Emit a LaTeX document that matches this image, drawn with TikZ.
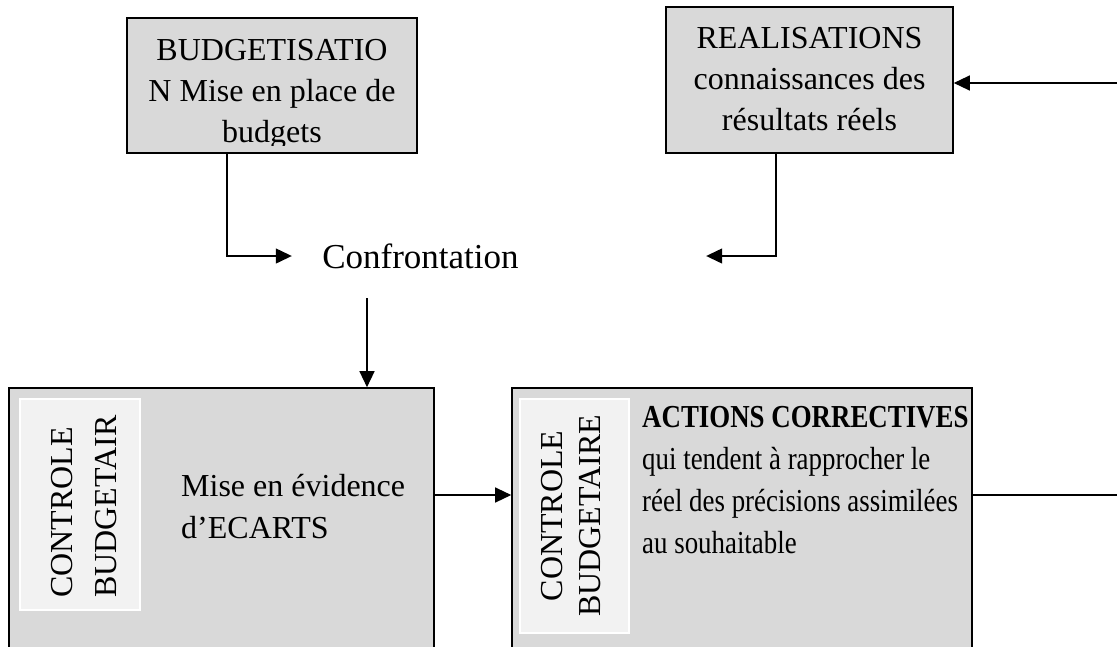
\documentclass[tikz,border=0pt]{standalone}
\usepackage{fontspec}
\setmainfont{Liberation Serif}
\newfontfamily\narrowserif[FakeStretch=0.84]{Liberation Serif}
\usetikzlibrary{arrows.meta}
\definecolor{boxgray}{HTML}{D9D9D9}
\definecolor{tagfill}{HTML}{F2F2F2}
\begin{document}
\begin{tikzpicture}[x=1pt,y=-1pt,
  box/.style={draw=black, line width=1.6pt, fill=boxgray, inner sep=0pt},
  tag/.style={draw=white, line width=1.5pt, fill=tagfill, inner sep=0pt},
  txt/.style={inner sep=0pt, font=\fontsize{32}{41}\selectfont},
  conn/.style={line width=1.3pt, -{Triangle[length=16pt,width=15pt]}},
  wire/.style={line width=1.3pt}]
\clip (0,0) rectangle (1117,646);
\fill[white] (0,0) rectangle (1117,646);

% budget setting (anchored on the baseline of the last line)
\node[box, minimum width=290pt, minimum height=135pt] (bud) at (272,85.5) {};
\begin{scope}
  \clip (128,19) rectangle (416,145);
  \node[txt, align=center, anchor=base] (budtext) at (272,142)
    {BUDGETISATIO\\N Mise en place de\\budgets};
\end{scope}

% actual results
\node[box, minimum width=287pt, minimum height=146pt] (real) at (809.5,80) {};
\node[txt, align=center, anchor=base] (realtext) at (809.5,130)
  {REALISATIONS\\connaissances des\\résultats réels};

% comparison
\node[minimum width=414pt, minimum height=84pt, inner sep=0pt] (conf) at (499,256) {};
\node[txt, anchor=base, font=\fontsize{35}{41}\selectfont] (conftext) at (420.5,268) {Confrontation};

% variances
\node[box, minimum width=425pt, minimum height=292pt] (ecart) at (221.5,534) {};
\node[tag, minimum width=120pt, minimum height=211pt] (tag1) at (80,504.5) {};
\node[txt, rotate=90, anchor=base west] (tag1a) at (72,598) {CONTROLE};
\node[txt, rotate=90, anchor=base west] (tag1b) at (116,598) {BUDGETAIR};
\node[txt, anchor=base west, align=left, font=\fontsize{32}{42}\selectfont] (ecarttext)
  at (181,538) {Mise en évidence\\d’ECARTS};

% corrective actions
\node[box, minimum width=460pt, minimum height=292pt] (act) at (742,534) {};
\node[tag, minimum width=109pt, minimum height=234pt] (tag2) at (574.5,516) {};
\node[txt, rotate=90, anchor=base] (tag2a) at (562,516) {CONTROLE};
\node[txt, rotate=90, anchor=base] (tag2b) at (600,516) {BUDGETAIRE};
\node[txt, anchor=base west, align=left, font=\narrowserif\fontsize{32}{42}\selectfont] (acttext)
  at (642,553) {\textbf{ACTIONS CORRECTIVES}\\qui tendent à rapprocher le\\réel des précisions assimilées\\au souhaitable};

% connectors
\draw[conn] ([xshift=-45pt]bud.south) |- (conf.west);
\draw[conn] ([xshift=-33.5pt]real.south) |- (conf.east);
\coordinate (confdown) at ([xshift=-132pt]conf.south);
\draw[conn] (confdown) -- (confdown |- ecart.north);
\draw[conn] ([yshift=39pt]ecart.east) -- ([yshift=39pt]act.west);
\coordinate (loopout) at (1130,495);
\coordinate (loopin) at (1130,83);
\draw[wire] ([yshift=39pt]act.east) -- (loopout);
\draw[conn] (loopin) -- ([yshift=-3pt]real.east);
\end{tikzpicture}
\end{document}
